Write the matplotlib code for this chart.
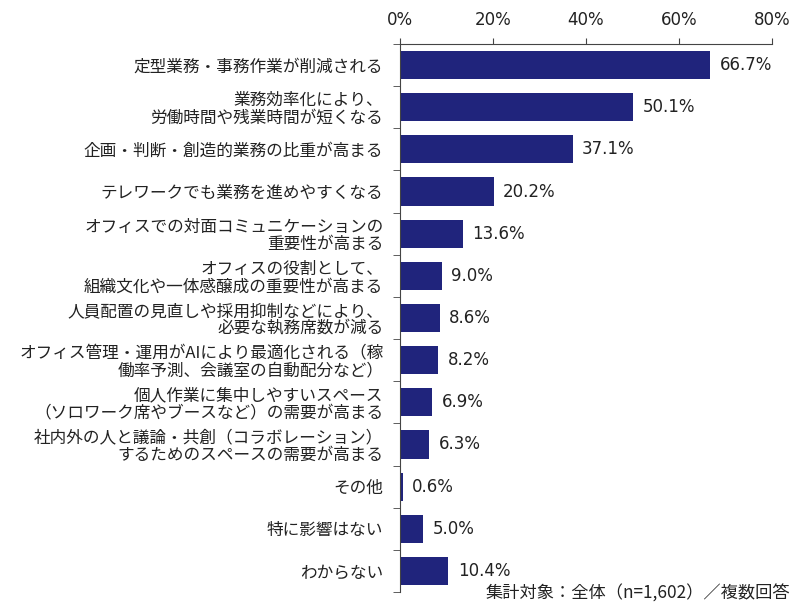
import numpy as np
import matplotlib.pyplot as plt

plt.rcParams['font.family'] = ['Noto Sans CJK JP', 'DejaVu Sans']

labels = [
    '定型業務・事務作業が削減される',
    '業務効率化により、\n労働時間や残業時間が短くなる',
    '企画・判断・創造的業務の比重が高まる',
    'テレワークでも業務を進めやすくなる',
    'オフィスでの対面コミュニケーションの\n重要性が高まる',
    'オフィスの役割として、\n組織文化や一体感醸成の重要性が高まる',
    '人員配置の見直しや採用抑制などにより、\n必要な執務席数が減る',
    'オフィス管理・運用がAIにより最適化される（稼\n働率予測、会議室の自動配分など）',
    '個人作業に集中しやすいスペース\n（ソロワーク席やブースなど）の需要が高まる',
    '社内外の人と議論・共創（コラボレーション）\nするためのスペースの需要が高まる',
    'その他',
    '特に影響はない',
    'わからない',
]
values = [66.7, 50.1, 37.1, 20.2, 13.6, 9.0, 8.6, 8.2, 6.9, 6.3, 0.6, 5.0, 10.4]
xticks = [0, 20, 40, 60, 80]
note = '集計対象：全体（n=1,602）／複数回答'

bar_color = '#20247c'

fig = plt.figure(figsize=(8, 6.06), dpi=100)
ax = fig.add_axes([0.5, 0.0231, 0.465, 0.9043])

y = np.arange(len(values))
ax.barh(y, values, height=0.667, color=bar_color)
for yi, v in zip(y, values):
    ax.text(v + 2.0, yi, f'{v:.1f}%', va='center', ha='left', fontsize=12,
            family='DejaVu Sans', color='#222222')

ax.set_xlim(0, 80)
ax.set_ylim(len(values) - 0.5, -0.5)
ax.xaxis.tick_top()
ax.set_xticks(xticks)
ax.set_xticklabels([f'{t}%' for t in xticks], fontsize=12, family='DejaVu Sans',
                   color='#222222')
ax.tick_params(axis='x', length=4, pad=7, color='#444444')

ax.set_yticks(y)
ax.set_yticklabels(labels, fontsize=12, linespacing=1.05, color='#222222')
ax.tick_params(axis='y', which='major', length=0, pad=12)
ax.set_yticks(np.arange(-0.5, len(values)), minor=True)
ax.tick_params(axis='y', which='minor', length=5, color='#444444')

for s in ['right', 'bottom']:
    ax.spines[s].set_visible(False)
for s in ['top', 'left']:
    ax.spines[s].set_color('#444444')

fig.text(0.988, 0.006, note, ha='right', va='bottom', fontsize=12.4, color='#222222')

fig.savefig('out.png', dpi=100)
